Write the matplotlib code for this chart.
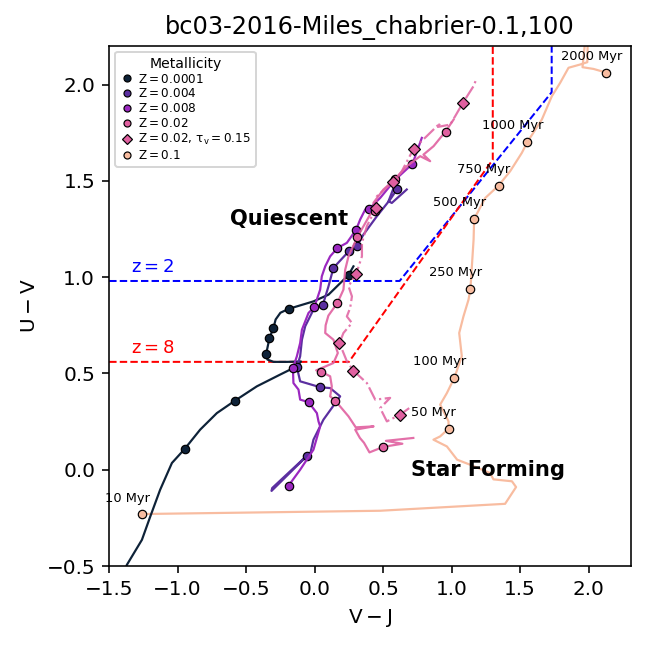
import matplotlib
matplotlib.use("Agg")
import matplotlib.pyplot as plt
from matplotlib.lines import Line2D

# UVJ selection boundaries (V-J, U-V corners)
z2_vj = [-1.5, 0.62, 1.73, 1.73]
z2_uv = [0.98, 0.98, 1.96, 2.3]
z8_vj = [-1.5, 0.25, 1.30, 1.30]
z8_uv = [0.56, 0.56, 1.61, 2.3]

# tracks (V-J, U-V)
t0001_vj = [-1.40, -1.371, -1.261, -1.20, -1.128, -1.042, -0.95, -0.836, -0.714, -0.585, -0.422,
            -0.252, -0.13, -0.10, -0.20, -0.30, -0.345, -0.354, -0.33, -0.301, -0.285, -0.25,
            -0.191, -0.009, 0.101, 0.247, 0.283]
t0001_uv = [-0.56, -0.494, -0.364, -0.243, -0.104, 0.035, 0.107, 0.208, 0.294, 0.357, 0.433,
            0.494, 0.537, 0.562, 0.56, 0.56, 0.572, 0.601, 0.684, 0.736, 0.78, 0.815,
            0.835, 0.874, 0.909, 1.011, 1.056]
m0001_vj = [-0.95, -0.585, -0.354, -0.33, -0.301, -0.191, 0.247]
m0001_uv = [0.107, 0.357, 0.601, 0.684, 0.736, 0.835, 1.011]

t004_vj = [-0.057, -0.31, -0.315, -0.03, -0.009, 0.064, 0.186, 0.113, 0.042, -0.106, -0.13,
           -0.106, -0.093, -0.069, -0.009, 0.06, 0.10, 0.137, 0.254, 0.312, 0.356, 0.454,
           0.551, 0.60, 0.60, 0.539, 0.563, 0.672]
t004_uv = [0.073, -0.095, -0.11, 0.09, 0.156, 0.26, 0.381, 0.424, 0.428, 0.459, 0.533,
           0.589, 0.675, 0.745, 0.831, 0.857, 0.95, 1.048, 1.138, 1.164, 1.221, 1.316,
           1.403, 1.455, 1.507, 1.394, 1.385, 1.455]
m004_vj = [-0.057, 0.042, -0.13, 0.06, 0.137, 0.254, 0.312, 0.60]
m004_uv = [0.073, 0.428, 0.533, 0.857, 1.048, 1.138, 1.164, 1.455]

t008_vj = [-0.191, -0.106, -0.009, 0.04, 0.028, 0.016, -0.045, -0.106, -0.118, -0.155, -0.159,
           -0.13, -0.106, -0.093, -0.045, -0.002, 0.04, 0.052, 0.077, 0.113, 0.166, 0.235,
           0.303, 0.332, 0.369, 0.40, 0.478, 0.588, 0.714, 0.782]
t008_uv = [-0.083, 0.0, 0.104, 0.225, 0.251, 0.294, 0.351, 0.364, 0.416, 0.45, 0.528,
           0.589, 0.658, 0.727, 0.814, 0.845, 0.935, 1.004, 1.056, 1.108, 1.151, 1.178,
           1.247, 1.299, 1.351, 1.356, 1.411, 1.506, 1.588, 1.723]
m008_vj = [-0.191, -0.045, -0.159, -0.002, 0.166, 0.303, 0.40, 0.714]
m008_uv = [-0.083, 0.351, 0.528, 0.845, 1.151, 1.247, 1.356, 1.588]

t02_vj = [0.72, 0.52, 0.64, 0.502, 0.40, 0.36, 0.33, 0.296, 0.43, 0.30, 0.247, 0.151, 0.113,
          0.125, 0.113, 0.047, 0.011, 0.137, 0.169, 0.137, 0.077, 0.08, 0.10, 0.166, 0.21,
          0.223, 0.247, 0.312, 0.356, 0.405, 0.442, 0.429, 0.502, 0.588, 0.673, 0.77, 0.843,
          0.794, 0.868, 0.955, 1.014]
t02_uv = [0.165, 0.15, 0.135, 0.119, 0.09, 0.14, 0.165, 0.208, 0.225, 0.22, 0.277, 0.358, 0.381,
          0.433, 0.485, 0.509, 0.516, 0.554, 0.606, 0.675, 0.710, 0.75, 0.80, 0.866, 0.935,
          1.039, 1.108, 1.209, 1.264, 1.325, 1.342, 1.386, 1.455, 1.51, 1.576, 1.628, 1.602,
          1.636, 1.68, 1.756, 1.818]
m02_vj = [0.502, 0.151, 0.047, 0.166, 0.312, 0.442, 0.588, 0.955]
m02_uv = [0.119, 0.358, 0.509, 0.866, 1.209, 1.342, 1.510, 1.756]

t02d_vj = [0.69, 0.624, 0.527, 0.478, 0.551, 0.442, 0.381, 0.283, 0.235, 0.181, 0.21, 0.272,
           0.235, 0.259, 0.272, 0.247, 0.303, 0.345, 0.345, 0.381, 0.447, 0.454, 0.575, 0.636,
           0.722, 0.818, 0.916, 0.90, 0.989, 1.026, 1.082, 1.159, 1.179]
t02d_uv = [0.32, 0.286, 0.251, 0.32, 0.373, 0.364, 0.45, 0.514, 0.563, 0.658, 0.71, 0.762,
           0.796, 0.84, 0.90, 0.953, 1.017, 1.108, 1.178, 1.264, 1.36, 1.42, 1.496, 1.55,
           1.666, 1.732, 1.80, 1.78, 1.792, 1.836, 1.905, 1.991, 2.026]
m02d_vj = [0.624, 0.283, 0.181, 0.303, 0.447, 0.575, 0.722, 1.082]
m02d_uv = [0.286, 0.514, 0.658, 1.017, 1.36, 1.496, 1.666, 1.905]

t1_vj = [-1.257, 0.478, 1.39, 1.47, 1.44, 1.305, 1.28, 1.135, 1.04, 0.965, 0.867, 0.916, 0.977,
         0.977, 0.916, 0.965, 1.02, 1.074, 1.055, 1.086, 1.123, 1.137, 1.16, 1.164, 1.245,
         1.342, 1.427, 1.512, 1.553, 1.658, 1.731, 1.792, 1.853, 1.938, 1.99, 1.995, 1.985,
         1.955, 2.035, 2.128]
t1_uv = [-0.23, -0.213, -0.177, -0.09, -0.06, -0.05, -0.017, 0.026, 0.052, 0.121, 0.156, 0.173,
         0.213, 0.251, 0.338, 0.398, 0.478, 0.589, 0.71, 0.796, 0.883, 0.94, 1.195, 1.302, 1.411,
         1.475, 1.55, 1.645, 1.702, 1.818, 1.939, 2.009, 2.087, 2.104, 2.116, 2.3, 2.3,
         2.09, 2.081, 2.062]
m1_vj = [-1.257, 0.977, 1.02, 1.137, 1.164, 1.342, 1.553, 2.128]
m1_uv = [-0.23, 0.213, 0.478, 0.94, 1.302, 1.475, 1.702, 2.062]
ages = ["10 Myr", "50 Myr", "100 Myr", "250 Myr", "500 Myr", "750 Myr", "1000 Myr", "2000 Myr"]

colors = ["#0e2238", "#5b2fa0", "#9b28c0", "#e060a0", "#f8bca0"]

fig = plt.figure(figsize=(646 / 144, 648 / 144), dpi=144)
ax = fig.add_axes([0.169, 0.1265, 0.808, 0.8025])

ax.plot(z2_vj, z2_uv, "--", color="blue", lw=1.0)
ax.plot(z8_vj, z8_uv, "--", color="red", lw=1.0)
ax.text(-1.34, 1.05, r"$\rm z = 2$", color="blue", fontsize=9, va="center")
ax.text(-1.34, 0.634, r"$\rm z = 8$", color="red", fontsize=9, va="center")

mk = dict(marker="o", ms=4.2, mec="black", mew=0.6, ls="none")
ax.plot(t1_vj, t1_uv, color=colors[4], lw=1.1)
ax.plot(m1_vj, m1_uv, mfc=colors[4], **mk)
for x, y, a in zip(m1_vj, m1_uv, ages):
    ax.annotate(a, (x, y), xytext=(-7.5, 8), textcoords="offset points",
                ha="center", va="center", fontsize=6.5)

ax.plot(t0001_vj, t0001_uv, color=colors[0], lw=1.1)
ax.plot(m0001_vj, m0001_uv, mfc=colors[0], **mk)
ax.plot(t004_vj, t004_uv, color=colors[1], lw=1.1)
ax.plot(m004_vj, m004_uv, mfc=colors[1], **mk)
ax.plot(t008_vj, t008_uv, color=colors[2], lw=1.1)
ax.plot(m008_vj, m008_uv, mfc=colors[2], **mk)
ax.plot(t02_vj, t02_uv, color=colors[3], lw=1.1, alpha=0.9)
ax.plot(m02_vj, m02_uv, mfc=colors[3], **mk)
ax.plot(t02d_vj, t02d_uv, color=colors[3], lw=1.1, ls="-.", alpha=0.85)
ax.plot(m02d_vj, m02d_uv, marker="D", ms=4.2, mfc=colors[3], mec="black", mew=0.6, ls="none")

ax.text(-0.62, 1.30, "Quiescent", fontsize=10.5, fontweight="bold", va="center")
ax.text(0.70, 0.0, "Star Forming", fontsize=10.5, fontweight="bold", va="center")

labels = [r"$\rm Z = 0.0001$", r"$\rm Z = 0.004$", r"$\rm Z = 0.008$", r"$\rm Z = 0.02$",
          r"$\rm Z = 0.02,\,\tau_v = 0.15$", r"$\rm Z = 0.1$"]
handles = []
for i, c in enumerate([colors[0], colors[1], colors[2], colors[3], colors[3], colors[4]]):
    m = "D" if i == 4 else "o"
    handles.append(Line2D([], [], marker=m, ms=3.5, mfc=c, mec="black", mew=0.6, ls="none"))
ax.legend(handles, labels, title="Metallicity", loc="upper left", fontsize=6,
          title_fontsize=7, labelspacing=0.15, handletextpad=0.3, borderpad=0.4,
          handlelength=1.2)

ax.set_xlim(-1.5, 2.31)
ax.set_ylim(-0.5, 2.2)
ax.set_xticks([-1.5, -1.0, -0.5, 0.0, 0.5, 1.0, 1.5, 2.0])
ax.set_xlabel(r"$\rm V-J$")
ax.set_ylabel(r"$\rm U-V$")
ax.set_title("bc03-2016-Miles_chabrier-0.1,100")

fig.savefig("out.png", dpi=144)
